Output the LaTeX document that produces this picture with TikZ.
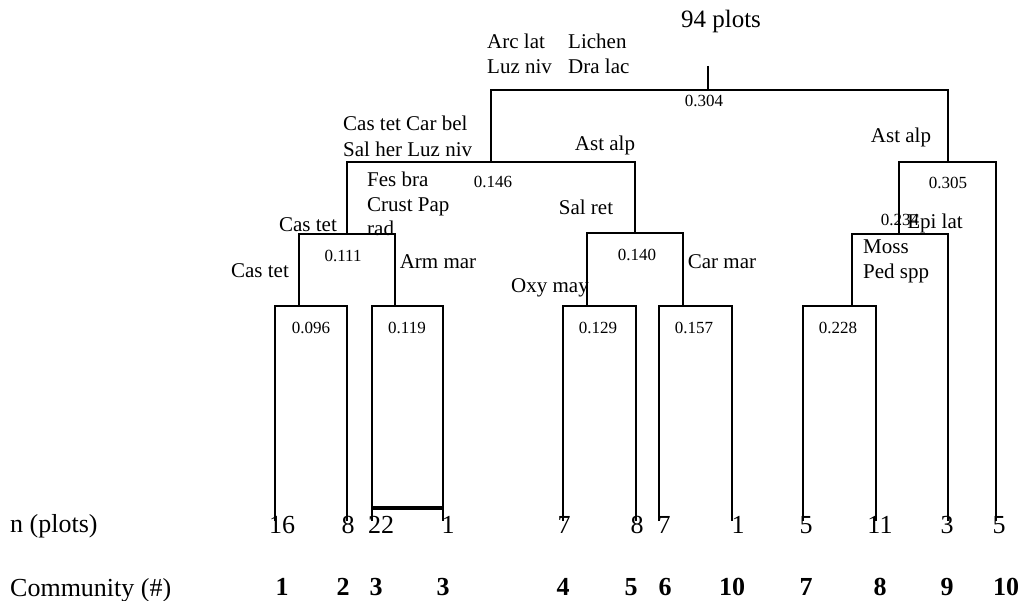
\documentclass[tikz,border=0pt]{standalone}
\usepackage{fontspec}
\setmainfont{Liberation Serif}
\usetikzlibrary{positioning}

\begin{document}
\begin{tikzpicture}[
  x=1pt, y=-1pt,
  branch/.style={line width=1.8pt, line join=miter},
  species/.style={inner sep=0pt, font=\fontsize{21}{25}\selectfont, align=left, anchor=north west},
  spname/.style={inner sep=0pt, font=\fontsize{21}{25}\selectfont, anchor=base},
  dist/.style={inner sep=0pt, font=\fontsize{17}{20}\selectfont, anchor=base},
  rowlabel/.style={inner sep=0pt, font=\fontsize{26}{30}\selectfont, anchor=base west},
  count/.style={inner sep=0pt, font=\fontsize{26}{30}\selectfont, anchor=base},
  community/.style={inner sep=0pt, font=\fontsize{26}{30}\bfseries, anchor=base}
]
  \useasboundingbox (0,0) rectangle (1024,601);

  % junctions
  \coordinate (stem) at (708,66);
  \coordinate (root) at (708,90);
  \coordinate (n146) at (491,162);
  \coordinate (n305) at (948,162);
  \coordinate (n111) at (347,234);
  \coordinate (n140) at (635,233);
  \coordinate (n234) at (899,234);
  \coordinate (n096) at (299,306);
  \coordinate (n119) at (395,306);
  \coordinate (n129) at (587,306);
  \coordinate (n157) at (683,306);
  \coordinate (n228) at (852,306);
  \foreach \i/\x in {1/275, 2/347, 3/372, 4/443, 5/563, 6/636,
                     7/659, 8/732, 9/803, 10/876, 11/948, 12/996}
    \coordinate (l\i) at (\x,521);

  % branches
  \draw[branch] (stem) -- (root);
  \draw[branch] (n146) |- (root) -| (n305);
  \draw[branch] (n111) |- (n146) -| (n140);
  \draw[branch] (n234) |- (n305) -| (l12);
  \draw[branch] (n096) |- (n111) -| (n119);
  \draw[branch] (n129) |- (n140) -| (n157);
  \draw[branch] (n228) |- (n234) -| (l11);
  \draw[branch] (l1) |- (n096) -| (l2);
  \draw[branch] (l3) |- (n119) -| (l4);
  \draw[branch] (l5) |- (n129) -| (l6);
  \draw[branch] (l7) |- (n157) -| (l8);
  \draw[branch] (l9) |- (n228) -| (l10);
  \draw[line width=3.5pt] ([yshift=13pt]l3) -- ([yshift=13pt]l4);

  % species and distances
  \node[spname, font=\fontsize{25}{30}\selectfont] (title) at (721,28) {94 plots};
  \node[species] (sp-root-a) at (487,34) {Arc lat\\Luz niv};
  \node[species] (sp-root-b) at (568,34) {Lichen\\Dra lac};
  \node[dist] (d304) at (704,107) {0.304};
  \node[species, font=\fontsize{21}{26}\selectfont] (sp-146) at (343,116) {Cas tet Car bel\\Sal her Luz niv};
  \node[dist] (d146) at (493,188) {0.146};
  \node[species, font=\fontsize{21}{24.5}\selectfont] (sp-111) at (367,172) {Fes bra\\Crust Pap\\rad};
  \node[spname] (sp-140) at (605,151) {Ast alp};
  \node[spname] (sp-111b) at (308,232) {Cas tet};
  \node[dist] (d111) at (343,262) {0.111};
  \node[spname] (sp-096) at (260,277) {Cas tet};
  \node[spname] (sp-119) at (438,269) {Arm mar};
  \node[dist] (d096) at (311,333) {0.096};
  \node[dist] (d119) at (407,333) {0.119};
  \node[spname] (sp-140b) at (586,215) {Sal ret};
  \node[dist] (d140) at (637,261) {0.140};
  \node[spname] (sp-157) at (722,269) {Car mar};
  \node[spname] (sp-129) at (550,293) {Oxy may};
  \node[dist] (d129) at (598,333) {0.129};
  \node[dist] (d157) at (694,333) {0.157};
  \node[spname] (sp-305) at (901,143) {Ast alp};
  \node[dist] (d305) at (948,189) {0.305};
  \node[dist] (d234) at (900,226) {0.234};
  \node[spname] (sp-234) at (935,229) {Epi lat};
  \node[species] (sp-228) at (863,240) {Moss\\Ped spp};
  \node[dist] (d228) at (838,333) {0.228};

  % bottom rows
  \node[rowlabel] (nrow) at (10,532) {n (plots)};
  \node[rowlabel] (crow) at (10,596) {Community (\#)};
  \foreach \x/\n in {282/16, 348/8, 381/22, 448/1, 564/7, 637/8,
                     664/7, 738/1, 806/5, 880/11, 947/3, 999/5}
    \node[count] (n-\x) at (\x,533) {\n};
  \foreach \x/\c in {282/1, 343/2, 376/3, 443/3, 563/4, 631/5,
                     665/6, 732/10, 806/7, 880/8, 947/9, 1006/10}
    \node[community] (c-\x) at (\x,595) {\c};
\end{tikzpicture}
\end{document}
